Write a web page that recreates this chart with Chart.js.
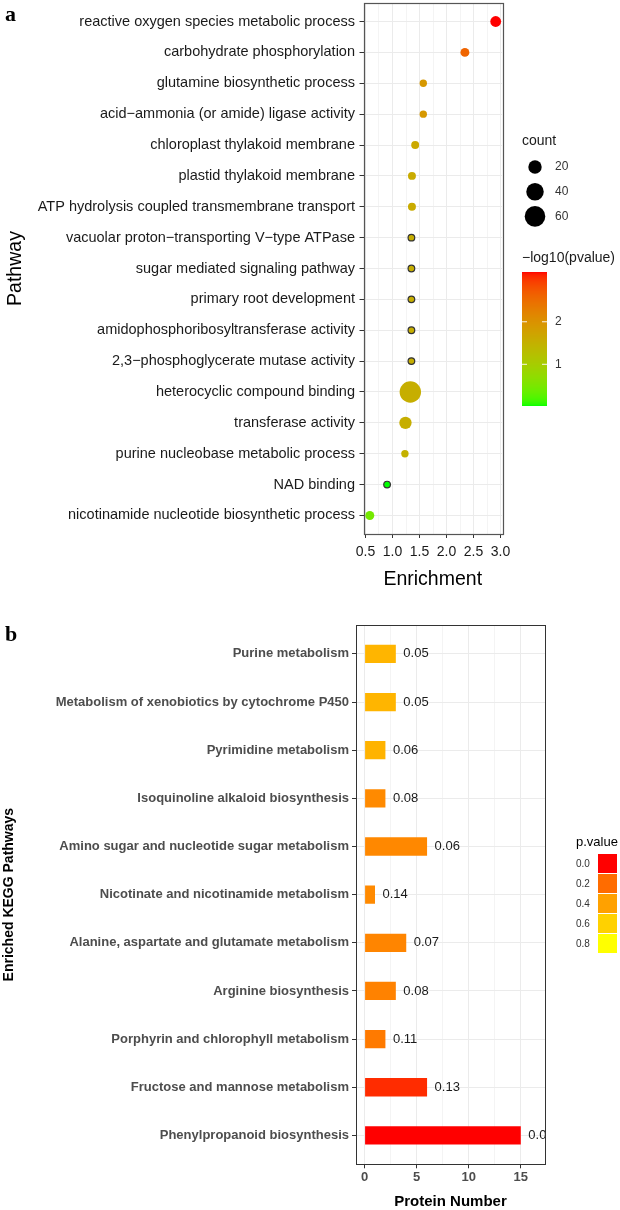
<!DOCTYPE html>
<html>
<head>
<meta charset="utf-8">
<script src="https://cdn.jsdelivr.net/npm/chart.js@4.4.1/dist/chart.umd.min.js"></script>
<style>
  html, body { margin: 0; padding: 0; background: #fff; }
  #wrap { position: relative; width: 620px; height: 1210px; overflow: hidden; }
  #chart-a { position: absolute; left: 0; top: 0; }
  #chart-b { position: absolute; left: 0; top: 595px; }
</style>
</head>
<body>
<div id="wrap">
  <canvas id="chart-a" width="620" height="595"></canvas>
  <canvas id="chart-b" width="620" height="615"></canvas>
</div>
<script>
// panel a: GO enrichment bubbles
var goTerms = [
  "reactive oxygen species metabolic process",
  "carbohydrate phosphorylation",
  "glutamine biosynthetic process",
  "acid\u2212ammonia (or amide) ligase activity",
  "chloroplast thylakoid membrane",
  "plastid thylakoid membrane",
  "ATP hydrolysis coupled transmembrane transport",
  "vacuolar proton\u2212transporting V\u2212type ATPase",
  "sugar mediated signaling pathway",
  "primary root development",
  "amidophosphoribosyltransferase activity",
  "2,3\u2212phosphoglycerate mutase activity",
  "heterocyclic compound binding",
  "transferase activity",
  "purine nucleobase metabolic process",
  "NAD binding",
  "nicotinamide nucleotide biosynthetic process"
];
var enrichment = [2.91, 2.34, 1.57, 1.57, 1.42, 1.36, 1.36, 1.35, 1.35, 1.35, 1.35, 1.35, 1.33, 1.24, 1.23, 0.90, 0.58];
var counts = [11, 6, 3, 3, 4, 4, 4, 2, 2, 2, 2, 2, 66, 16, 3, 2, 6];
var logP = [3.17, 2.6, 1.9, 1.9, 1.65, 1.6, 1.6, 1.55, 1.55, 1.55, 1.55, 1.55, 1.55, 1.55, 1.5, 0.02, 0.45];
var countBreaks = [20, 40, 60];
var logPBreaks = [2, 1];

// panel b: KEGG pathways
var keggPathways = [
  "Purine metabolism",
  "Metabolism of xenobiotics by cytochrome P450",
  "Pyrimidine metabolism",
  "Isoquinoline alkaloid biosynthesis",
  "Amino sugar and nucleotide sugar metabolism",
  "Nicotinate and nicotinamide metabolism",
  "Alanine, aspartate and glutamate metabolism",
  "Arginine biosynthesis",
  "Porphyrin and chlorophyll metabolism",
  "Fructose and mannose metabolism",
  "Phenylpropanoid biosynthesis"
];
var proteinNumber = [3, 3, 2, 2, 6, 1, 4, 3, 2, 6, 15];
var pValue = [0.48, 0.48, 0.47, 0.31, 0.30, 0.31, 0.29, 0.28, 0.25, 0.04, 0.0];
var barLabels = ["0.05", "0.05", "0.06", "0.08", "0.06", "0.14", "0.07", "0.08", "0.11", "0.13", "0.01"];
var pBreaks = [0.0, 0.2, 0.4, 0.6, 0.8];

var SANS = "'Liberation Sans', Arial, sans-serif";
var SERIF = "'Liberation Serif', 'Times New Roman', serif";
Chart.defaults.font.family = SANS;

// colour ramps interpolated in Lab, like ggplot
function hexToRgb(h) { var n = parseInt(h.slice(1), 16); return [n >> 16 & 255, n >> 8 & 255, n & 255]; }
function toLin(c) { c /= 255; return c <= 0.04045 ? c / 12.92 : Math.pow((c + 0.055) / 1.055, 2.4); }
function fromLin(c) {
  c = c <= 0.0031308 ? 12.92 * c : 1.055 * Math.pow(c, 1 / 2.4) - 0.055;
  return Math.max(0, Math.min(255, Math.round(c * 255)));
}
function rgbToLab(rgb) {
  var r = toLin(rgb[0]), g = toLin(rgb[1]), b = toLin(rgb[2]);
  var x = (0.4124 * r + 0.3576 * g + 0.1805 * b) / 0.95047;
  var y = 0.2126 * r + 0.7152 * g + 0.0722 * b;
  var z = (0.0193 * r + 0.1192 * g + 0.9505 * b) / 1.08883;
  var f = function (t) { return t > 0.008856 ? Math.cbrt(t) : 7.787 * t + 16 / 116; };
  return [116 * f(y) - 16, 500 * (f(x) - f(y)), 200 * (f(y) - f(z))];
}
function labToRgb(lab) {
  var fy = (lab[0] + 16) / 116, fx = fy + lab[1] / 500, fz = fy - lab[2] / 200;
  var inv = function (t) { return t > 0.206893 ? t * t * t : (t - 16 / 116) / 7.787; };
  var x = inv(fx) * 0.95047, y = inv(fy), z = inv(fz) * 1.08883;
  var r = 3.2406 * x - 1.5372 * y - 0.4986 * z;
  var g = -0.9689 * x + 1.8758 * y + 0.0415 * z;
  var b = 0.0557 * x - 0.2040 * y + 1.0570 * z;
  return 'rgb(' + fromLin(r) + ',' + fromLin(g) + ',' + fromLin(b) + ')';
}
function ramp(low, high, lo, hi) {
  var a = rgbToLab(hexToRgb(low)), b = rgbToLab(hexToRgb(high));
  return function (v) {
    var t = Math.max(0, Math.min(1, (v - lo) / (hi - lo)));
    return labToRgb([a[0] + (b[0] - a[0]) * t, a[1] + (b[1] - a[1]) * t, a[2] + (b[2] - a[2]) * t]);
  };
}

var logMin = Math.min.apply(null, logP), logMax = Math.max.apply(null, logP);
var greenRed = ramp('#00FF00', '#FF0000', logMin, logMax);
var redYellow = ramp('#FF0000', '#FFFF00', 0, 0.8);

function sizeOf(c) { return 1.78 + 1.1 * Math.sqrt(c); }

var panelBorder = {
  id: 'panelBorder',
  afterDraw: function (chart, args, opts) {
    var a = chart.chartArea, ctx = chart.ctx;
    ctx.save();
    ctx.strokeStyle = opts.color || '#333';
    ctx.lineWidth = opts.width || 1;
    ctx.strokeRect(Math.round(a.left) + 0.5, Math.round(a.top) + 0.5, Math.round(a.right - a.left), Math.round(a.bottom - a.top));
    ctx.restore();
  }
};

function tag(letter, x, y) {
  return {
    id: 'tag' + letter,
    afterDraw: function (chart) {
      var ctx = chart.ctx;
      ctx.save();
      ctx.fillStyle = '#000';
      ctx.font = 'bold 22px ' + SERIF;
      ctx.textAlign = 'left';
      ctx.textBaseline = 'alphabetic';
      ctx.fillText(letter, x, y);
      ctx.restore();
    }
  };
}

var legendA = {
  id: 'legendA',
  afterDraw: function (chart) {
    var ctx = chart.ctx, lx = chart.chartArea.right + 20;
    ctx.save();
    ctx.fillStyle = '#1a1a1a';
    ctx.font = '14px ' + SANS;
    ctx.textBaseline = 'middle';
    ctx.textAlign = 'left';
    ctx.fillText('count', lx, 141);
    countBreaks.forEach(function (c, i) {
      var cy = 167 + i * 24.7;
      ctx.beginPath();
      ctx.fillStyle = '#000';
      ctx.arc(lx + 13, cy, sizeOf(c), 0, Math.PI * 2);
      ctx.fill();
      ctx.fillStyle = '#333';
      ctx.font = '12px ' + SANS;
      ctx.fillText(String(c), lx + 33, cy);
    });
    // colourbar
    var top = 272, bottom = 406, w = 25;
    ctx.fillStyle = '#1a1a1a';
    ctx.font = '14px ' + SANS;
    ctx.fillText('\u2212log10(pvalue)', lx, 258);
    for (var y = top; y < bottom; y++) {
      var v = logMax - (y + 0.5 - top) / (bottom - top) * (logMax - logMin);
      ctx.fillStyle = greenRed(v);
      ctx.fillRect(lx, y, w, 1);
    }
    logPBreaks.forEach(function (b) {
      var py = bottom - (b - logMin) / (logMax - logMin) * (bottom - top);
      ctx.strokeStyle = 'rgba(255,255,255,0.9)';
      ctx.lineWidth = 1;
      ctx.beginPath();
      ctx.moveTo(lx, py); ctx.lineTo(lx + 5, py);
      ctx.moveTo(lx + w - 5, py); ctx.lineTo(lx + w, py);
      ctx.stroke();
      ctx.fillStyle = '#333';
      ctx.font = '12px ' + SANS;
      ctx.fillText(String(b), lx + 33, py);
    });
    ctx.restore();
  }
};

var xMinA = Math.min.apply(null, enrichment), xMaxA = Math.max.apply(null, enrichment);
var padA = (xMaxA - xMinA) * 0.05;
function isMajorA(v) { return Math.abs(v * 2 - Math.round(v * 2)) < 1e-6; }

new Chart(document.getElementById('chart-a'), {
  type: 'scatter',
  data: {
    datasets: [{
      data: enrichment.map(function (v, i) { return { x: v, y: i }; }),
      pointRadius: function (c) { return sizeOf(counts[c.dataIndex]); },
      pointHoverRadius: function (c) { return sizeOf(counts[c.dataIndex]); },
      backgroundColor: function (c) { return greenRed(logP[c.dataIndex]); },
      borderColor: function (c) { return counts[c.dataIndex] <= 2 ? '#333' : greenRed(logP[c.dataIndex]); },
      borderWidth: function (c) { return counts[c.dataIndex] <= 2 ? 1.2 : 0; }
    }]
  },
  options: {
    responsive: false,
    animation: false,
    layout: { autoPadding: false, padding: { left: 0, top: 3, right: 118, bottom: 0 } },
    plugins: { legend: { display: false }, tooltip: { enabled: false }, panelBorder: { color: '#555', width: 1.2 } },
    scales: {
      x: {
        type: 'linear',
        min: xMinA - padA,
        max: xMaxA + padA,
        border: { display: false },
        grid: {
          color: function (c) { return isMajorA(c.tick.value) ? '#EBEBEB' : '#F4F4F4'; },
          tickColor: function (c) { return isMajorA(c.tick.value) ? '#333' : 'rgba(0,0,0,0)'; },
          tickLength: 4
        },
        ticks: {
          stepSize: 0.25,
          includeBounds: false,
          autoSkip: false,
          maxRotation: 0,
          padding: 6,
          color: '#1a1a1a',
          font: { size: 14 },
          callback: function (v) { return isMajorA(v) ? v.toFixed(1) : ''; }
        },
        title: { display: true, text: 'Enrichment', color: '#000', font: { size: 19.5 }, padding: { top: 0, bottom: 3.5 } },
        afterFit: function (s) { s.height = 61; s.paddingLeft = 0; s.paddingRight = 0; }
      },
      y: {
        type: 'linear',
        reverse: true,
        offset: false,
        min: -0.6,
        max: goTerms.length - 0.4,
        border: { display: false },
        grid: { color: '#EBEBEB', tickColor: '#333', tickLength: 4, offset: false },
        ticks: {
          stepSize: 1,
          includeBounds: false,
          autoSkip: false,
          padding: 4.5,
          color: '#1a1a1a',
          font: { size: 14.5 },
          callback: function (v) { return goTerms[v] || ''; }
        },
        title: { display: true, text: 'Pathway', color: '#000', font: { size: 19.5 }, padding: { top: 4, bottom: 0 } },
        afterFit: function (s) { s.width = 363.5; s.paddingTop = 0; s.paddingBottom = 0; }
      }
    }
  },
  plugins: [panelBorder, legendA, tag('a', 5, 21)]
});

var barText = {
  id: 'barText',
  afterDatasetsDraw: function (chart) {
    var ctx = chart.ctx, a = chart.chartArea;
    var meta = chart.getDatasetMeta(0);
    ctx.save();
    ctx.beginPath();
    ctx.rect(a.left, a.top, a.right - a.left, a.bottom - a.top);
    ctx.clip();
    ctx.fillStyle = '#1a1a1a';
    ctx.font = '13px ' + SANS;
    ctx.textAlign = 'left';
    ctx.textBaseline = 'middle';
    meta.data.forEach(function (bar, i) {
      ctx.fillText(barLabels[i], bar.x + 7.5, bar.y);
    });
    ctx.restore();
  }
};

var legendB = {
  id: 'legendB',
  afterDraw: function (chart) {
    var ctx = chart.ctx, lx = chart.chartArea.right + 31;
    ctx.save();
    ctx.textAlign = 'left';
    ctx.textBaseline = 'middle';
    ctx.fillStyle = '#000';
    ctx.font = '13px ' + SANS;
    ctx.fillText('p.value', lx, 247);
    pBreaks.forEach(function (p, i) {
      var ky = 259 + i * 20;
      ctx.fillStyle = redYellow(p);
      ctx.fillRect(lx + 22, ky, 19, 19);
      ctx.fillStyle = '#333';
      ctx.font = '10px ' + SANS;
      ctx.fillText(p.toFixed(1), lx, ky + 10);
    });
    ctx.restore();
  }
};

var labelMax = Math.max.apply(null, proteinNumber) + 1.5;

new Chart(document.getElementById('chart-b'), {
  type: 'bar',
  data: {
    datasets: [{
      data: proteinNumber.map(function (v, i) { return { x: v, y: i }; }),
      backgroundColor: function (c) { return redYellow(pValue[c.dataIndex]); },
      borderWidth: 0,
      barPercentage: 0.38,
      categoryPercentage: 1
    }]
  },
  options: {
    indexAxis: 'y',
    responsive: false,
    animation: false,
    layout: { autoPadding: false, padding: { left: 0, top: 30, right: 75, bottom: 0 } },
    plugins: { legend: { display: false }, tooltip: { enabled: false }, panelBorder: { color: '#333', width: 1 } },
    scales: {
      x: {
        type: 'linear',
        min: -0.05 * labelMax,
        max: 1.05 * labelMax,
        border: { display: false },
        grid: {
          color: function (c) { return c.tick.value % 5 === 0 ? '#EBEBEB' : '#F4F4F4'; },
          tickColor: function (c) { return c.tick.value % 5 === 0 ? '#333' : 'rgba(0,0,0,0)'; },
          tickLength: 4
        },
        ticks: {
          stepSize: 2.5,
          includeBounds: false,
          autoSkip: false,
          maxRotation: 0,
          padding: 1,
          color: '#4d4d4d',
          font: { size: 13, weight: 'bold' },
          callback: function (v) { return v % 5 === 0 ? String(v) : ''; }
        },
        title: { display: true, text: 'Protein Number', color: '#000', font: { size: 15, weight: 'bold', lineHeight: 1 }, padding: { top: 0, bottom: 1 } },
        afterFit: function (s) { s.height = 45.7; s.paddingLeft = 0; s.paddingRight = 0; }
      },
      y: {
        type: 'linear',
        reverse: true,
        offset: false,
        min: -0.6,
        max: keggPathways.length - 0.4,
        border: { display: false },
        grid: { color: '#EBEBEB', tickColor: '#333', tickLength: 4, offset: false },
        ticks: {
          stepSize: 1,
          includeBounds: false,
          autoSkip: false,
          padding: 3,
          color: '#4d4d4d',
          font: { size: 13, weight: 'bold' },
          callback: function (v) { return keggPathways[v] || ''; }
        },
        title: { display: true, text: 'Enriched KEGG Pathways', color: '#000', font: { size: 14, weight: 'bold' }, padding: { top: 1, bottom: 0 } },
        afterFit: function (s) { s.width = 356; s.paddingTop = 0; s.paddingBottom = 0; }
      }
    }
  },
  plugins: [panelBorder, barText, legendB, tag('b', 5, 46)]
});
</script>
</body>
</html>
